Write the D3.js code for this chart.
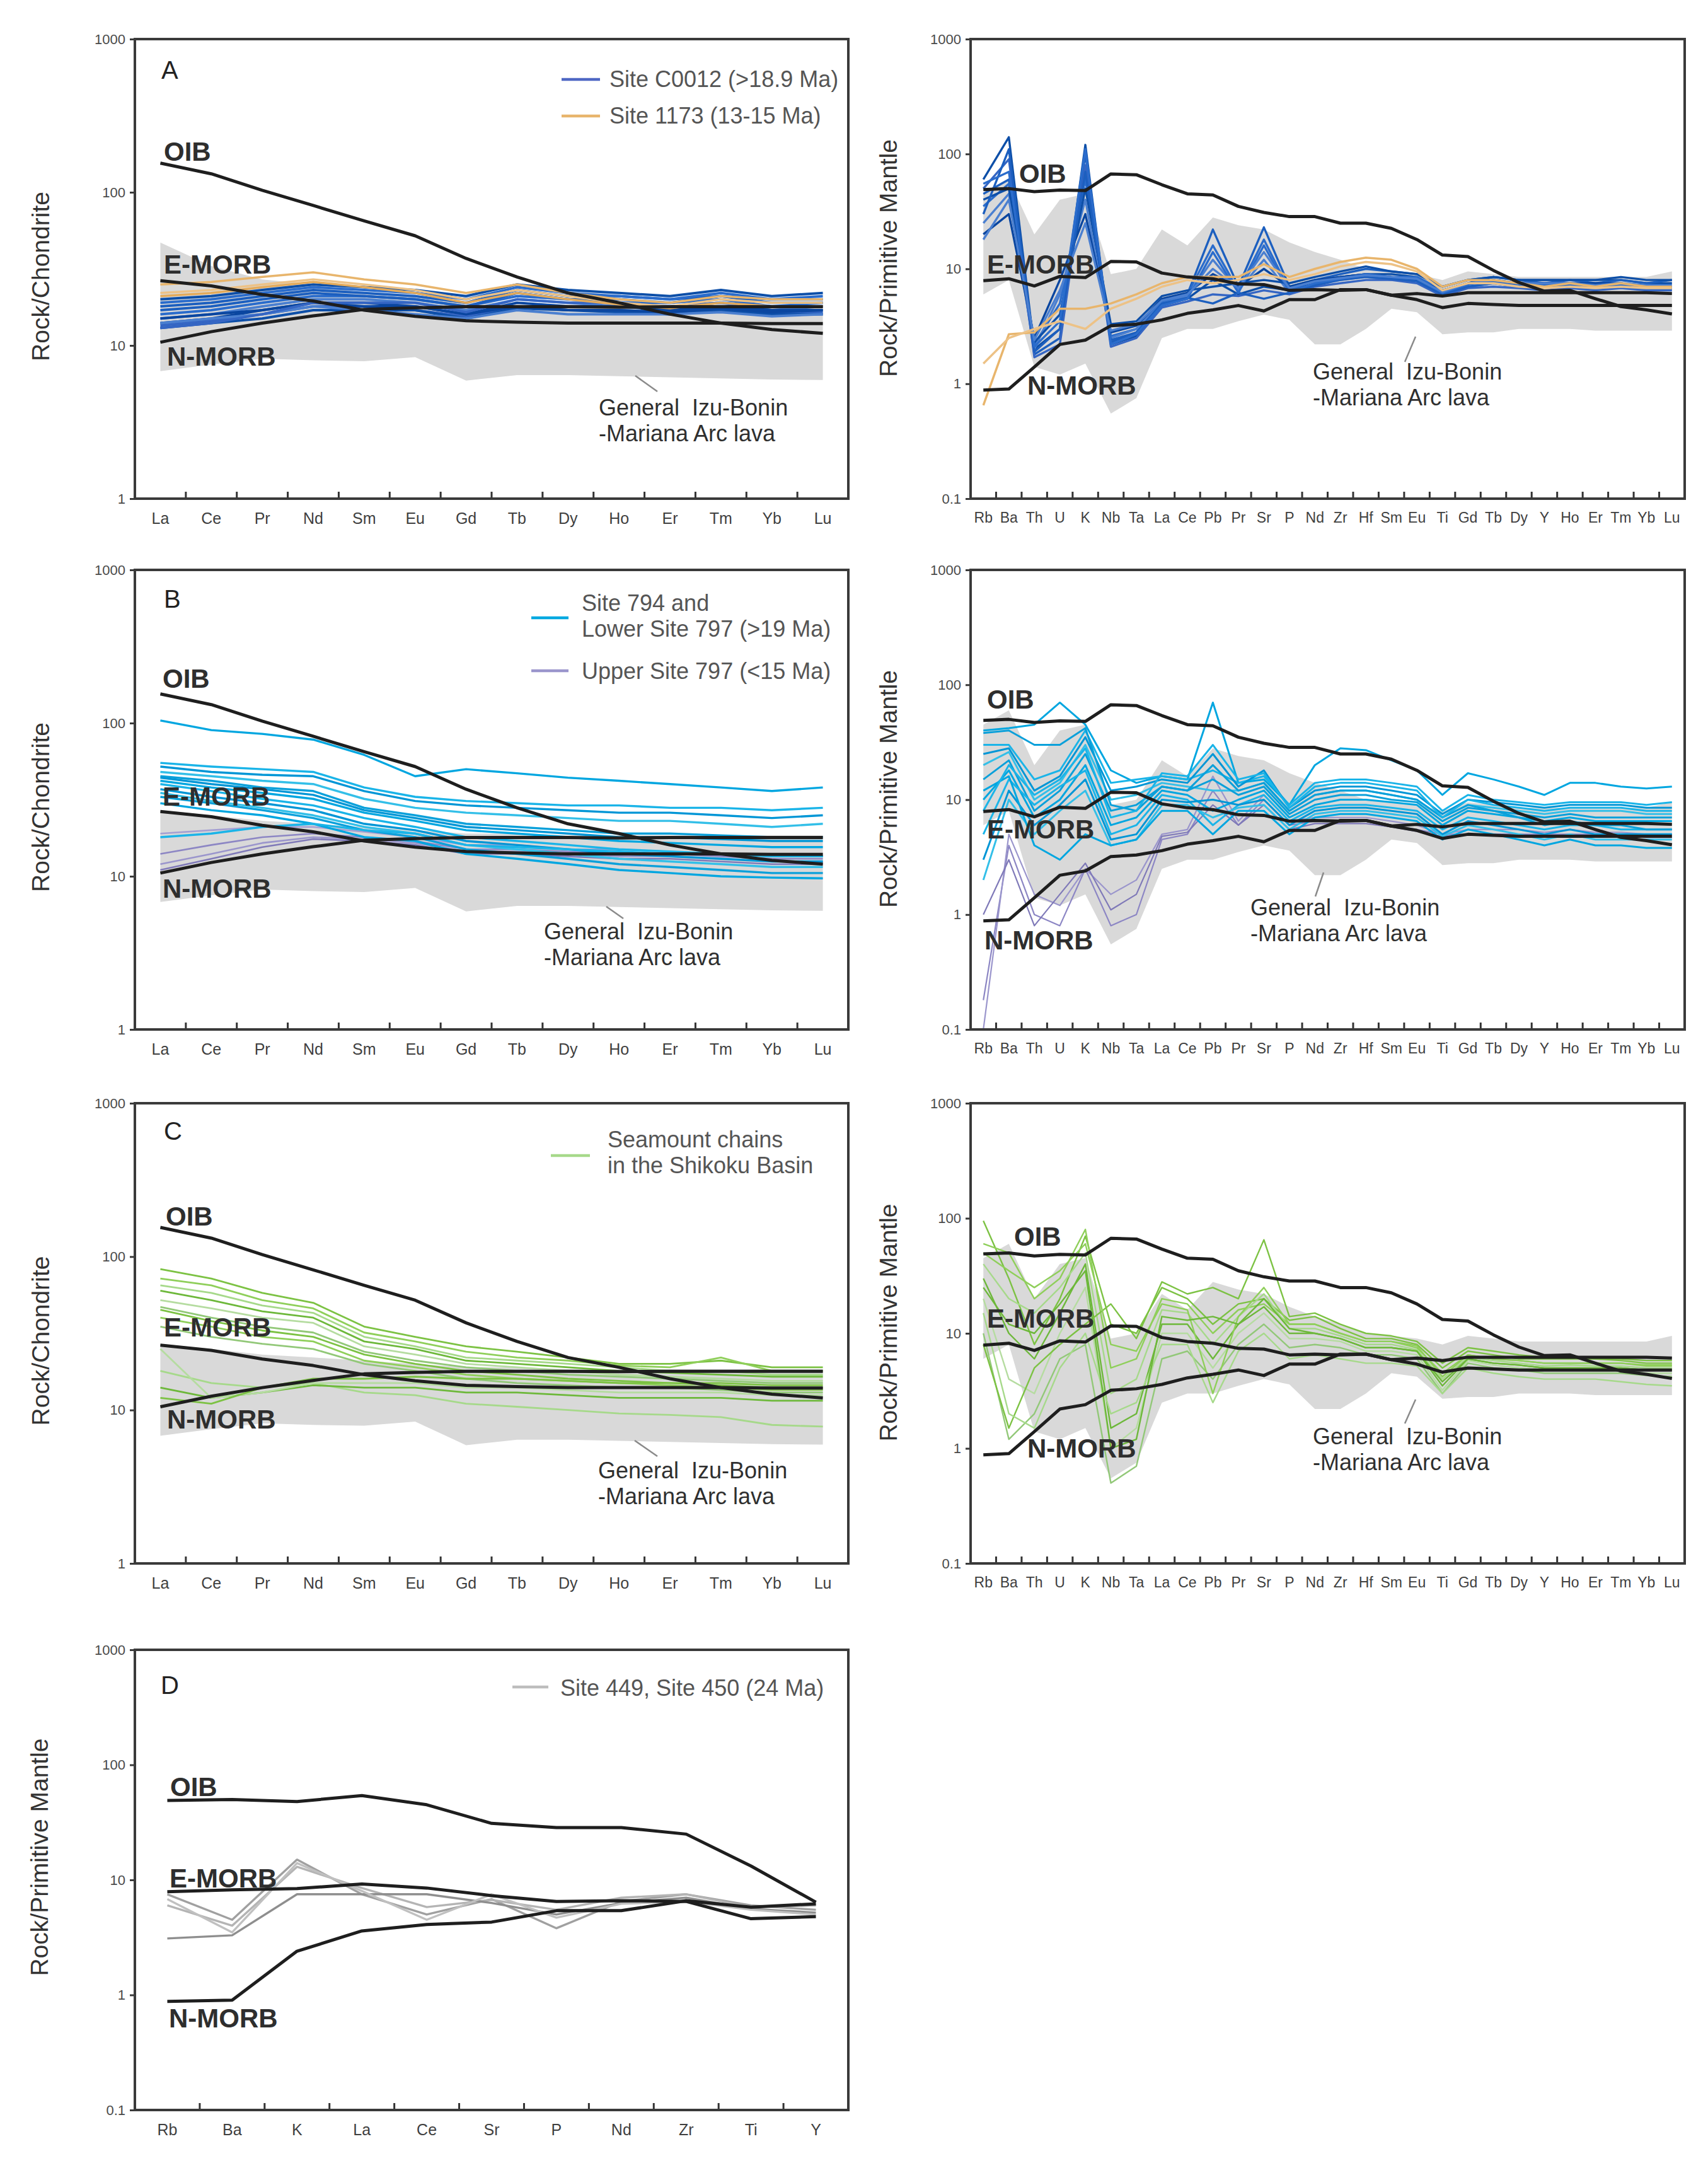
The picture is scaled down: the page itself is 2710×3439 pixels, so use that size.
<!DOCTYPE html>
<html>
<head>
<meta charset="utf-8">
<title>REE and spider diagrams</title>
<style>
  body { margin: 0; background: #fff; }
  svg text { font-family: "Liberation Sans", Arial, sans-serif; }
</style>
</head>
<body>
<script src="https://d3js.org/d3.v7.min.js"></script>
<script>
/*********************************
 * Categories and ticks
 *********************************/
var reeElements = ['La','Ce','Pr','Nd','Sm','Eu','Gd','Tb','Dy','Ho','Er','Tm','Yb','Lu'];
var spiderElements = ['Rb','Ba','Th','U','K','Nb','Ta','La','Ce','Pb','Pr','Sr','P','Nd',
                      'Zr','Hf','Sm','Eu','Ti','Gd','Tb','Dy','Y','Ho','Er','Tm','Yb','Lu'];
var dElements = ['Rb','Ba','K','La','Ce','Sr','P','Nd','Zr','Ti','Y'];

var reeTicks = [1, 10, 100, 1000];
var reeTickLabels = ['1', '10', '100', '1000'];
var spiderTicks = [0.1, 1, 10, 100, 1000];
var spiderTickLabels = ['0.1', '1', '10', '100', '1000'];

/*********************************
 * Reference curves (OIB, E-MORB, N-MORB)
 *********************************/
var oibRee   = [155, 132, 103, 82, 65, 52, 37, 28, 22, 19, 16, 14, 12.7, 12];
var emorbRee = [26.5, 24.5, 21.5, 19.5, 17, 15.5, 14.5, 14.2, 14, 14, 14, 14, 13.9, 13.9];
var nmorbRee = [10.5, 12.3, 14, 15.6, 17.2, 17.6, 17.9, 17.9, 17.9, 17.8, 17.9, 17.9, 17.9, 17.9];

var oibSpider   = [49, 50, 47, 48.5, 48, 67, 66,   54, 45, 44, 35, 31, 28.5, 28.5,
                   25, 25, 22.5, 18, 13.2, 12.8, 9.7,   7.6, 6.4, 6.5, 5.5, 4.7, 4.4, 4.05];
var emorbSpider = [7.9, 8.2, 7.1, 8.6, 8.4, 11.6, 11.5,   9.2, 8.5, 8.2, 7.4, 7.3, 6.5, 6.6,
                   6.5, 6.6, 5.9, 5.4, 4.6, 5.0, 4.9,   4.8, 4.8, 4.8, 4.8, 4.8, 4.8, 4.8];
var nmorbSpider = [0.88, 0.9, 1.4, 2.2, 2.4, 3.2, 3.3,   3.6, 4.1, 4.4, 4.8, 4.3, 5.4, 5.4,
                   6.6, 6.6, 5.9, 6.1, 5.8, 6.2, 6.2,   6.2, 6.2, 6.2, 6.2, 6.2, 6.2, 6.1];

var oibD   = [49, 50, 48, 54, 45, 31, 28.5, 28.5, 25, 13.2, 6.4];
var emorbD = [7.9, 8.2, 8.4, 9.2, 8.5, 7.3, 6.5, 6.6, 6.5, 4.6, 4.8];
var nmorbD = [0.88, 0.9, 2.4, 3.6, 4.1, 4.3, 5.4, 5.4, 6.6, 5.8, 6.2];

/*********************************
 * General Izu-Bonin-Mariana arc lava field
 *********************************/
var reeFieldTopA   = [47, 33, 27, 25, 22, 21, 19, 19, 18.5, 18.5, 18.5, 18.5, 18.5, 18.5];
var reeFieldTop    = [27, 25, 23, 22, 21, 20, 19, 19, 18.5, 18.5, 18.5, 18.5, 18.5, 18.5];
var reeFieldBottom = [6.8, 7.5, 8.2, 8.0, 7.9, 8.4, 5.9, 6.4, 6.4, 6.3, 6.2, 6.1, 6.0, 5.95];

var spiderFieldTop    = [45, 60, 20, 40, 45, 9, 10,   22, 16, 28, 24, 22, 17, 14,
                         12, 10, 9.5, 9, 8, 9.5, 9,   8.5, 8.5, 8.5, 8.5, 8.5, 8.5, 9.5];
var spiderFieldBottom = [6, 8, 1.4, 1.2, 1.5, 0.55, 0.75,   2.5, 3, 3, 3.5, 4, 3.6, 2.2,
                         2.2, 3, 4.5, 4.2, 2.7, 2.8, 2.8,   3, 3, 3, 2.9, 2.9, 2.9, 2.9];

/*********************************
 * Samples
 *********************************/
// A: Site C0012 (blue) and Site 1173 (orange)
var siteC0012Ree = [
  [20, 21, 23, 25, 24, 23, 21, 25, 23, 22, 21, 23, 21, 22],
  [18, 19, 21, 23, 22, 21, 19, 23, 21, 21, 20, 21, 20, 20],
  [16, 17, 19, 21, 21, 20, 18, 21, 20, 19, 19, 20, 18, 19],
  [15, 16, 18, 20, 20, 19, 17, 20, 19, 18, 18, 19, 17, 18],
  [14, 15, 17, 19, 19, 18, 16, 19, 18, 18, 17, 18, 17, 17],
  [13.5, 14.5, 16, 18, 18, 17, 15.5, 18, 17, 17, 16.5, 17, 16, 16.5],
  [13, 14, 15, 17, 17, 17, 15, 17.5, 17, 16.5, 16, 17, 16, 16],
  [17, 18, 20, 22, 21, 20, 18, 22, 20, 20, 19, 21, 19, 19],
  [19, 20, 22, 24, 23, 22, 20, 24, 22, 21, 20, 22, 20, 21],
  [14, 15, 16, 18, 17, 16, 15, 17, 16, 16, 16, 16.5, 15.5, 16],
  [15, 16, 17, 19, 18, 18, 16, 18, 17, 17, 16.5, 17.5, 16.5, 17],
  [13, 14, 16, 19, 19, 19, 16.5, 20, 19, 19, 18, 19, 18, 18]
];
var site1173Ree = [
  [25, 26, 28, 30, 27, 25, 22, 25, 22, 20, 19, 21, 20, 20],
  [22, 23, 25, 27, 25, 23, 20, 23, 21, 19, 18, 20, 19, 19],
  [21, 22, 24, 26, 24, 22, 19, 22, 20, 18.5, 17.5, 19, 18, 18]
];
var siteC0012Spider = [
  [60, 140, 2.0, 3, 120, 2.2, 2.6,   4.8, 5.5, 8, 6, 7, 6.5, 7.5,   8.5, 9, 9, 8.5, 6.5, 7.5, 8.5,   8, 8, 8, 8, 8, 7.5, 7.5],
  [45, 60, 1.8, 2.5, 100, 2.3, 2.8,   5, 6, 22, 7, 23, 7, 8,   9, 10, 9.5, 9, 7, 8, 8.5,   8, 7.5, 8, 7.5, 8, 7.5, 8],
  [35, 55, 2.2, 5, 60, 2.6, 3,   5.2, 6, 16, 6.5, 18, 6.5, 8,   8.5, 9, 8.5, 8.5, 6.5, 7.5, 8,   7.5, 7, 7.5, 7, 7.5, 7, 7],
  [25, 45, 2.0, 6, 40, 2.5, 3,   5, 5.8, 12, 6.5, 12, 6.2, 7.5,   8, 8.5, 8, 8, 6, 7, 7.5,   7, 7, 7, 7, 7, 6.8, 6.8],
  [20, 30, 2.5, 8, 30, 2.8, 3.2,   5.5, 6.2, 9, 7, 10, 7, 8,   8.5, 9, 8.5, 8, 6.5, 7.5, 8,   7.5, 7.5, 7.5, 7.5, 7.5, 7, 7],
  [50, 90, 1.7, 2.2, 80, 2.1, 2.5,   4.6, 5.2, 6, 5.8, 6.5, 6, 7,   7.5, 8, 8, 7.5, 5.8, 6.8, 7,   6.8, 6.5, 6.8, 6.5, 6.8, 6.5, 6.5],
  [40, 50, 2.3, 4, 50, 3.3, 3.5,   5.8, 6.5, 7, 7.5, 8, 7.5, 8.5,   9.5, 10.5, 9.5, 9, 7, 8, 8.5,   8, 8, 8, 8, 8.5, 8, 8],
  [30, 110, 1.9, 3, 70, 2.4, 2.8,   5, 5.6, 5, 6.2, 5.5, 6.2, 7.2,   8, 8.5, 8.2, 7.8, 6, 7, 7.5,   7, 7, 7, 6.8, 7, 6.8, 6.8],
  [55, 70, 2.1, 3.5, 110, 2.2, 2.7,   4.8, 5.5, 14, 6.2, 16, 6.3, 7.5,   8.2, 9, 8.5, 8.2, 6.2, 7.3, 7.8,   7.3, 7.2, 7.3, 7, 7.3, 7, 7],
  [18, 40, 2.4, 6.5, 25, 2.9, 3.3,   5.3, 6, 10, 6.8, 14, 6.8, 7.8,   8.3, 8.8, 8.5, 8.2, 6.3, 7.5, 8,   7.5, 7.5, 7.5, 7.2, 7.5, 7.2, 7.2]
];
var site1173Spider = [
  [0.65, 2.7, 2.8, 4.5, 4.5, 5, 6,   7.5, 8.5, 8.5, 8.5, 11, 8.5, 10,   11.5, 12.5, 12, 10, 7, 8, 8,   7.5, 7, 7.5, 7, 7.5, 7, 7],
  [1.5, 2.5, 3, 3.5, 3, 4.5, 5.5,   7, 8, 7.5, 8, 9, 8, 9,   10.5, 11.5, 11, 9.5, 6.5, 7.5, 7.5,   7, 6.8, 7, 6.8, 7, 6.8, 6.8]
];

// B: Site 794 + Lower Site 797 (cyan) and Upper Site 797 (purple)
var site794Ree = [
  [104, 90, 85, 78, 62, 45, 50, 47, 44, 42, 40, 38, 36, 38],
  [55, 52, 50, 48, 38, 33, 31, 30, 29, 29, 28, 28, 27, 28],
  [52, 48, 46, 45, 36, 31, 29, 28, 27, 26, 26, 25, 24, 25],
  [48, 45, 42, 40, 32, 28, 26, 25, 24, 23, 23, 22, 21, 22],
  [45, 42, 38, 36, 28, 25, 22, 21, 20, 19, 19, 18.5, 18, 18],
  [42, 38, 35, 32, 26, 23, 20, 19, 18, 17, 16.5, 16, 15.5, 15.5],
  [40, 36, 32, 29, 24, 21, 18, 17, 16, 15, 14.5, 14, 13.5, 13.5],
  [37, 33, 30, 27, 22, 20, 17, 16, 15, 14, 13.5, 13, 12.5, 12.5],
  [35, 31, 28, 25, 21, 19, 16, 15, 14, 13, 12.5, 12, 11.5, 11.5],
  [33, 30, 27, 24, 20, 18, 15, 14, 13, 12, 11.5, 11, 10.5, 10.5],
  [30, 27, 25, 22, 18, 17, 14, 13, 12, 11, 10.5, 10, 9.8, 9.7],
  [18, 19, 21, 22, 20, 19, 16, 15.5, 15, 14.5, 14, 14, 13.5, 13.5],
  [44, 40, 37, 34, 27, 24, 21, 20, 19, 18, 18, 17.5, 17, 17]
];
var upper797Ree = [
  [14, 16, 18, 19, 18, 17, 15, 15, 14.5, 14, 14, 13.5, 13, 13],
  [12, 14, 16.5, 18, 17.5, 16.5, 14.5, 14.5, 14, 13.5, 13.5, 13, 12.5, 12.5],
  [11, 13, 15.5, 17.5, 17, 16, 14, 14, 13.5, 13, 13, 12.5, 12, 12],
  [19, 20, 21, 21, 19.5, 18, 16, 16, 15, 15, 14.5, 14, 13.5, 13.5]
];
var site794Spider = [
  [40, 42, 45, 70, 45, 18, 14,   16, 15, 70, 14, 15, 9, 20,   28, 27, 22, 18, 11, 17, 15,   13, 11, 14, 14, 13, 12.5, 13],
  [30, 30, 15, 18, 40, 14, 15,   16, 15, 18, 14, 16, 9, 14,   15, 15, 14, 13, 8, 11, 10,   9.5, 9, 9.5, 9.5, 9.5, 9, 9.5],
  [25, 28, 12, 16, 35, 12, 13,   15, 14, 25, 13, 18, 8.5, 12,   13, 13, 12, 11, 7.5, 10, 9.5,   9, 8.5, 9, 9, 9, 8.5, 8.5],
  [20, 26, 10, 14, 30, 10, 11,   14, 13, 12, 12, 14, 8, 11,   12, 12, 11, 10, 7, 9, 8.5,   8, 7.5, 8, 8, 8, 7.5, 7.5],
  [15, 22, 8, 12, 25, 8, 9,   13, 12, 15, 11, 13, 7.5, 10,   11, 11, 10, 9.5, 6.5, 8.5, 8,   7.5, 7, 7.5, 7, 7, 7, 7],
  [10, 18, 7, 10, 20, 6, 7,   12, 11, 8, 10, 12, 7, 9,   10, 10, 9.5, 9, 6, 8, 7.5,   7, 6.5, 7, 6.5, 6.5, 6.5, 6.5],
  [5, 15, 9, 13, 18, 5, 6,   11, 10, 6, 9, 11, 6.5, 8.5,   9, 9, 8.5, 8, 5.5, 7, 6.5,   6, 5.5, 6, 6, 5.5, 5.5, 5.5],
  [3, 12, 6, 9, 15, 4.5, 5,   10, 9.5, 10, 9, 10, 6, 8,   8.5, 8.5, 8, 7.5, 5, 6.5, 6,   5.5, 5, 5.5, 5, 5, 5, 5],
  [2, 10, 5, 8, 12, 4, 4.5,   9, 9, 7, 8.5, 9, 5.5, 7.5,   8, 8, 7.5, 7, 4.8, 6, 5.5,   5, 4.5, 5, 4.5, 4.5, 4.5, 4.5],
  [38, 40, 30, 30, 42, 9, 8,   13, 12, 20, 12, 14, 8, 11,   12, 12, 11, 10, 7, 9, 8,   7, 6, 6.5, 6, 6, 5.5, 5.5],
  [12, 16, 4, 3, 5, 4, 4.5,   8, 8, 5, 8, 8, 5, 7,   7.5, 7.5, 7, 6.5, 4.5, 5.5, 5,   4.5, 4, 4.5, 4, 4, 3.8, 3.8],
  [8, 20, 11, 15, 28, 7, 8,   17, 16, 30, 15, 17, 8.5, 13,   14, 14, 13, 12, 7, 10, 9,   8.5, 8, 8.5, 8.5, 8.5, 8, 8]
];
var upper797Spider = [
  [0.18, 4, 1.0, 0.8, 2.5, 0.8, 1.0,   4.5, 5, 12, 6, 10, 6, 6.5,   6.5, 6.5, 6, 5.5, 5, 5, 5,   5, 5, 5, 5, 5, 5, 5],
  [0.1, 5, 1.5, 1.2, 2.5, 1.5, 2,   5, 5.5, 16, 6.5, 11, 6.5, 7,   7, 7, 6.5, 6, 5, 5.5, 5.5,   5.5, 5.2, 5.5, 5.2, 5.2, 5, 5],
  [1.0, 3, 0.8, 1.5, 2.8, 1.1, 1.5,   4.8, 5.2, 9, 6, 9, 5.5, 6.2,   6.2, 6.2, 5.8, 5.3, 4.8, 5, 5,   5, 4.8, 5, 4.8, 4.8, 4.7, 4.7]
];

// C: Seamount chains in the Shikoku Basin (green)
var seamountRee = [
  [83, 72, 58, 50, 35, 30, 26, 24, 22, 20, 20, 21, 19, 19],
  [72, 65, 52, 46, 32, 28, 24, 22, 21, 19.5, 19, 22, 18, 18],
  [65, 58, 48, 43, 30, 26, 22, 21, 20, 19, 18, 18, 17, 17],
  [60, 52, 44, 40, 28, 25, 21, 20, 19, 18, 17.5, 17, 16.5, 16.5],
  [52, 46, 40, 37, 26, 23, 20, 19, 18, 17, 16.5, 16, 15.5, 15.5],
  [47, 40, 35, 32, 24, 21, 19, 18, 17, 16.5, 16, 15.5, 15, 15],
  [45, 38, 33, 30, 23, 20, 18, 17, 16, 15.5, 15, 14.5, 14, 14],
  [40, 35, 30, 28, 21, 19, 17, 16, 15.5, 15, 14.5, 14, 13.5, 13.5],
  [18, 15, 14, 15, 13, 12.5, 11, 10.5, 10, 9.5, 9.3, 9, 8, 7.8],
  [14, 12, 13, 14.5, 14, 14, 13, 13, 12.5, 12, 12, 12, 11.5, 11.5],
  [25, 12, 13, 15, 15, 15, 14, 14, 13.5, 13, 13, 13, 12.5, 12.5],
  [35, 30, 27, 25, 20, 18, 16, 15, 14.5, 14, 14, 13.5, 13, 13],
  [12, 11, 14, 16, 16, 16.5, 16, 16, 15.5, 15, 15, 15, 14.5, 14.5]
];
var seamountSpider = [
  [95, 30, 8, 20, 70, 12, 10,   25, 20, 12, 18, 20, 13, 14,   11, 9, 9, 8, 5, 7, 6.5,   6, 6, 6, 6, 5.8, 5.5, 5.5],
  [60, 50, 20, 30, 80, 5, 6,   20, 18, 10, 16, 18, 12, 12,   10, 8.5, 8.5, 7.5, 4.5, 6.5, 6,   5.8, 5.5, 5.5, 5.5, 5.5, 5.3, 5.3],
  [40, 20, 15, 25, 50, 3, 4,   16, 15, 8, 14, 22, 11, 11,   9.5, 8, 8, 7.2, 4, 6.2, 5.8,   5.5, 5.2, 5.3, 5.2, 5.2, 5, 5],
  [30, 10, 6, 15, 40, 1.5, 2,   12, 12, 6, 12, 17, 10, 10,   9, 7.5, 7.5, 7, 3.5, 6, 5.5,   5.3, 5, 5, 5, 5, 4.8, 4.8],
  [20, 4, 3, 10, 25, 1.0, 1.5,   10, 10, 5, 10, 15, 9, 9,   8.5, 7, 7, 6.5, 3.2, 5.8, 5.3,   5, 4.8, 4.8, 4.7, 4.7, 4.5, 4.5],
  [10, 1.2, 2, 6, 8, 0.5, 0.7,   6, 7, 4, 8, 12, 7.5, 8,   7.5, 6.5, 6.5, 6, 3, 5.5, 5,   4.8, 4.5, 4.5, 4.5, 4.5, 4.3, 4.2],
  [8, 1.5, 5, 8, 12, 18, 9,   28, 22, 25, 20, 65, 14, 15,   12, 10, 9.5, 8.5, 5.5, 7.5, 7,   6.5, 6.2, 6.2, 6, 6, 5.8, 5.8],
  [50, 35, 25, 35, 60, 8, 7,   18, 16, 3, 14, 25, 12, 12,   10, 8.5, 8.5, 7.8, 4.2, 6.5, 6,   5.8, 5.5, 5.5, 5.5, 5.5, 5.2, 5.2],
  [15, 2, 1.5, 5, 10, 2, 2.5,   8, 8, 2.5, 7, 10, 6, 6.5,   6, 5.5, 5.5, 5.2, 3, 5, 4.5,   4.2, 4, 4, 4, 3.8, 3.6, 3.5],
  [25, 12, 10, 18, 35, 1, 1.2,   14, 13, 14, 12, 20, 11, 10,   9, 7.5, 7.5, 7, 3.8, 6, 5.5,   5.3, 5, 5, 5, 5, 4.8, 4.8]
];

// D: Site 449, Site 450 (grey)
var site449D = [
  [7.5, 4.5, 15, 7.5, 5, 6.8, 3.8, 6.5, 7.5, 6, 5.5],
  [6, 4, 13, 8.5, 5.8, 6.7, 5.5, 7, 7.5, 5.8, 6],
  [3.1, 3.3, 7.5, 7.5, 7.5, 6.3, 5, 6.3, 7, 5.6, 5.2],
  [6.8, 3.5, 14, 8, 4.5, 7.5, 4.7, 6.2, 6.5, 5.5, 5]
];

/*********************************
 * Colours
 *********************************/
var blues   = ['#0d4fa8', '#1c5fbf', '#2a6ccc', '#4a7fd0', '#0a46a0', '#3566c4'];
var oranges = ['#e8b56c', '#edc286', '#e3aa5a'];
var cyans   = ['#00a6e0', '#1ab4e8', '#0096d6', '#33bfe8', '#0aa0da'];
var purples = ['#8c86c4', '#9a95cc', '#7f79b8', '#a49fd2'];
var greens  = ['#7cc243', '#8fcf5a', '#a6d98a', '#6db83a', '#b5dca0', '#92c878'];
var greys   = ['#a0a0a0', '#b4b4b4', '#8e8e8e', '#c0c0c0'];

/*********************************
 * Panels
 *********************************/
var LEFT = [214, 1346], RIGHT = [1540, 2673];

var panels = [
  { id: 'a1', x: LEFT, y: [62, 791], elements: reeElements, ticks: reeTicks, tickLabels: reeTickLabels,
    title: 'Rock/Chondrite', titleX: 78, titleDy: 12,
    refs: [oibRee, emorbRee, nmorbRee], refPos: [[46, 193], [46, 372], [51, 518]],
    field: [reeFieldBottom, reeFieldTopA], fieldText: [736, 597], pointer: [794, 534, 829, 559],
    groups: [{ rows: siteC0012Ree, colors: blues, w: 4 }, { rows: site1173Ree, colors: oranges, w: 3.5 }],
    letter: ['A', 42, 63],
    legend: { lx: [677, 738], tx: 753, items: [
      { color: '#4f67c4', y: 64, lines: ['Site C0012 (>18.9 Ma)'], ty: 76 },
      { color: '#e8b56c', y: 122, lines: ['Site 1173 (13-15 Ma)'], ty: 134 } ] } },
  { id: 'a2', x: RIGHT, y: [62, 791], elements: spiderElements, ticks: spiderTicks, tickLabels: spiderTickLabels,
    title: 'Rock/Primitive Mantle', titleX: 1423, titleDy: -17,
    refs: [oibSpider, emorbSpider, nmorbSpider], refPos: [[77, 228], [26, 372], [90, 564]],
    field: [spiderFieldBottom, spiderFieldTop], fieldText: [543, 540], pointer: [706, 472, 689, 512],
    groups: [{ rows: siteC0012Spider, colors: blues, w: 3.4 }, { rows: site1173Spider, colors: oranges, w: 3.5 }] },

  { id: 'b1', x: LEFT, y: [904, 1633], elements: reeElements, ticks: reeTicks, tickLabels: reeTickLabels,
    title: 'Rock/Chondrite', titleX: 78, titleDy: 12,
    refs: [oibRee, emorbRee, nmorbRee], refPos: [[44, 187], [44, 374], [44, 520]],
    field: [reeFieldBottom, reeFieldTop], fieldText: [649, 586], pointer: [748, 534, 775, 553],
    groups: [{ rows: upper797Ree, colors: purples, w: 2.6 }, { rows: site794Ree, colors: cyans, w: 3.4 }],
    letter: ['B', 46, 60],
    legend: { lx: [629, 688], tx: 709, items: [
      { color: '#00a8e0', y: 76, lines: ['Site 794 and', 'Lower Site 797 (>19 Ma)'], ty: 65 },
      { color: '#9a95cc', y: 160, lines: ['Upper Site 797 (<15 Ma)'], ty: 173 } ] } },
  { id: 'b2', x: RIGHT, y: [904, 1633], elements: spiderElements, ticks: spiderTicks, tickLabels: spiderTickLabels,
    title: 'Rock/Primitive Mantle', titleX: 1423, titleDy: -17,
    refs: [oibSpider, emorbSpider, nmorbSpider], refPos: [[26, 220], [26, 426], [22, 602]],
    field: [spiderFieldBottom, spiderFieldTop], fieldText: [444, 548], pointer: [560, 480, 547, 518],
    groups: [{ rows: upper797Spider, colors: purples, w: 2.2 }, { rows: site794Spider, colors: cyans, w: 3 }] },

  { id: 'c1', x: LEFT, y: [1750, 2480], elements: reeElements, ticks: reeTicks, tickLabels: reeTickLabels,
    title: 'Rock/Chondrite', titleX: 78, titleDy: 12,
    refs: [oibRee, emorbRee, nmorbRee], refPos: [[49, 194], [46, 370], [51, 516]],
    field: [reeFieldBottom, reeFieldTop], fieldText: [735, 595], pointer: [793, 535, 829, 560],
    groups: [{ rows: seamountRee, colors: greens, w: 2.8 }],
    letter: ['C', 46, 58],
    legend: { lx: [660, 722], tx: 750, items: [
      { color: '#a6d98a', y: 83, lines: ['Seamount chains', 'in the Shikoku Basin'], ty: 70 } ] } },
  { id: 'c2', x: RIGHT, y: [1750, 2480], elements: spiderElements, ticks: spiderTicks, tickLabels: spiderTickLabels,
    title: 'Rock/Primitive Mantle', titleX: 1423, titleDy: -17,
    refs: [oibSpider, emorbSpider, nmorbSpider], refPos: [[69, 226], [26, 356], [90, 562]],
    field: [spiderFieldBottom, spiderFieldTop], fieldText: [543, 541], pointer: [706, 470, 689, 508],
    groups: [{ rows: seamountSpider, colors: greens, w: 2.4 }] },

  { id: 'd1', x: LEFT, y: [2617, 3347], elements: dElements, ticks: spiderTicks, tickLabels: spiderTickLabels,
    title: 'Rock/Primitive Mantle', titleX: 76, titleDy: -36,
    refs: [oibD, emorbD, nmorbD], refPos: [[56, 232], [55, 377], [54, 599]],
    groups: [{ rows: site449D, colors: greys, w: 3.4 }],
    letter: ['D', 41, 70],
    legend: { lx: [599, 656], tx: 675, items: [
      { color: '#bdbdbd', y: 59, lines: ['Site 449, Site 450 (24 Ma)'], ty: 73 } ] } }
];

/*********************************
 * Append SVG element
 *********************************/
var svg = d3.select('body').append('svg')
    .attr('width', 2710)
    .attr('height', 3439);

svg.append('rect').attr('width', 2710).attr('height', 3439).attr('fill', '#fff');

panels.forEach(drawPanel);

function drawPanel(p) {
  var x0 = p.x[0], x1 = p.x[1], y0 = p.y[0], y1 = p.y[1];
  var g = svg.append('g');

  var xBand = d3.scaleBand().domain(p.elements).range([x0, x1]);
  var xc = function(e) { return xBand(e) + xBand.bandwidth() / 2; };
  var yScale = d3.scaleLog()
      .domain([p.ticks[0], p.ticks[p.ticks.length - 1]])
      .range([y1, y0]);

  g.append('clipPath').attr('id', 'clip-' + p.id)
    .append('rect').attr('x', x0).attr('y', y0).attr('width', x1 - x0).attr('height', y1 - y0);
  var plot = g.append('g').attr('clip-path', 'url(#clip-' + p.id + ')');

  var line = d3.line()
      .x(function(d, i) { return xc(p.elements[i]); })
      .y(function(d) { return yScale(d); });

  // Arc lava field
  if (p.field) {
    var area = d3.area()
        .x(function(d, i) { return xc(p.elements[i]); })
        .y0(function(d) { return yScale(d[0]); })
        .y1(function(d) { return yScale(d[1]); });
    plot.append('path')
      .datum(p.field[0].map(function(v, i) { return [v, p.field[1][i]]; }))
      .attr('d', area)
      .attr('fill', '#d9d9d9');

    g.append('line')
      .attr('x1', x0 + p.pointer[0]).attr('y1', y0 + p.pointer[1])
      .attr('x2', x0 + p.pointer[2]).attr('y2', y0 + p.pointer[3])
      .attr('stroke', '#8a8a8a').attr('stroke-width', 2.5);

    g.append('text')
      .attr('x', x0 + p.fieldText[0]).attr('y', y0 + p.fieldText[1])
      .attr('font-size', 36).attr('fill', '#2f2f2f')
      .selectAll('tspan')
      .data(['General  Izu-Bonin', '-Mariana Arc lava'])
      .enter().append('tspan')
      .attr('x', x0 + p.fieldText[0])
      .attr('dy', function(d, i) { return i ? 41 : 0; })
      .style('white-space', 'pre')
      .text(function(d) { return d; });
  }

  // Reference labels (drawn below sample lines)
  g.selectAll('text.ref')
    .data(['OIB', 'E-MORB', 'N-MORB'])
    .enter().append('text')
    .attr('class', 'ref')
    .attr('x', function(d, i) { return x0 + p.refPos[i][0]; })
    .attr('y', function(d, i) { return y0 + p.refPos[i][1]; })
    .attr('font-size', 42).attr('font-weight', 'bold').attr('fill', '#2e2e2e')
    .text(function(d) { return d; });

  // Sample lines
  p.groups.forEach(function(grp) {
    plot.selectAll(null)
      .data(grp.rows)
      .enter().append('path')
      .attr('d', line)
      .attr('fill', 'none')
      .attr('stroke', function(d, i) { return grp.colors[i % grp.colors.length]; })
      .attr('stroke-width', grp.w)
      .attr('stroke-linejoin', 'round');
  });

  // OIB / E-MORB / N-MORB curves
  plot.selectAll(null)
    .data(p.refs)
    .enter().append('path')
    .attr('d', line)
    .attr('fill', 'none')
    .attr('stroke', '#1e1e1e')
    .attr('stroke-width', 5)
    .attr('stroke-linejoin', 'round');

  /*********************************
   * Axes
   *********************************/
  var yAxis = d3.axisLeft(yScale)
      .tickValues(p.ticks)
      .tickFormat(function(d, i) { return p.tickLabels[i]; })
      .tickSize(8)
      .tickPadding(7);
  var ya = g.append('g').attr('transform', 'translate(' + x0 + ',0)').call(yAxis);
  ya.select('.domain').remove();
  ya.selectAll('line').attr('stroke', '#3a3a3a').attr('stroke-width', 3);
  ya.selectAll('text').attr('font-size', 22).attr('fill', '#4a4a4a')
    .attr('font-family', '"Liberation Sans", Arial, sans-serif');

  var xAxis = d3.axisBottom(xBand).tickSize(0).tickPadding(22);
  var xa = g.append('g').attr('transform', 'translate(0,' + y1 + ')').call(xAxis);
  xa.select('.domain').remove();
  xa.selectAll('text').attr('font-size', p.elements.length > 20 ? 23 : 25).attr('fill', '#3f3f3f')
    .attr('font-family', '"Liberation Sans", Arial, sans-serif');

  // inward ticks between categories
  g.selectAll(null)
    .data(p.elements.slice(1))
    .enter().append('line')
    .attr('x1', function(d) { return xBand(d); })
    .attr('x2', function(d) { return xBand(d); })
    .attr('y1', y1).attr('y2', y1 - 11)
    .attr('stroke', '#333').attr('stroke-width', 3);

  // Frame
  g.append('rect')
    .attr('x', x0).attr('y', y0)
    .attr('width', x1 - x0).attr('height', y1 - y0)
    .attr('fill', 'none').attr('stroke', '#3a3a3a').attr('stroke-width', 4);

  // Y title
  g.append('text')
    .attr('transform', 'translate(' + p.titleX + ',' + ((y0 + y1) / 2 + p.titleDy) + ') rotate(-90)')
    .attr('text-anchor', 'middle')
    .attr('font-size', 39).attr('fill', '#333')
    .text(p.title);

  // Panel letter
  if (p.letter) {
    g.append('text')
      .attr('x', x0 + p.letter[1]).attr('y', y0 + p.letter[2])
      .attr('font-size', 40).attr('fill', '#222')
      .text(p.letter[0]);
  }

  // Legend
  if (p.legend) {
    var lg = p.legend;
    lg.items.forEach(function(it) {
      g.append('line')
        .attr('x1', x0 + lg.lx[0]).attr('x2', x0 + lg.lx[1])
        .attr('y1', y0 + it.y).attr('y2', y0 + it.y)
        .attr('stroke', it.color).attr('stroke-width', 4.5);
      g.append('text')
        .attr('font-size', 36).attr('fill', '#555')
        .selectAll('tspan')
        .data(it.lines)
        .enter().append('tspan')
        .attr('x', x0 + lg.tx)
        .attr('y', function(d, i) { return y0 + it.ty + i * 41; })
        .text(function(d) { return d; });
    });
  }
}
</script>
</body>
</html>
